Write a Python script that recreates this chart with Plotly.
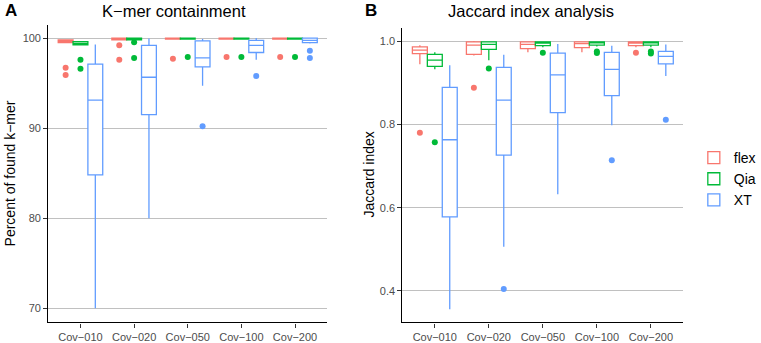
import plotly.graph_objects as go

categories = ["Cov\u2212010", "Cov\u2212020", "Cov\u2212050", "Cov\u2212100", "Cov\u2212200"]
series = ["flex", "Qia", "XT"]
colors = {"flex": "#F8766D", "Qia": "#00BA38", "XT": "#619CFF"}

# Panel A: K-mer containment (percent of found k-mer)
kmer_q1 = {"flex": [99.5, 99.8, 99.9, 99.9, 99.9],
           "Qia": [99.25, 99.8, 99.9, 99.9, 99.9],
           "XT": [84.8, 91.5, 96.8, 98.4, 99.5]}
kmer_med = {"flex": [99.65, 99.9, 99.95, 99.95, 99.95],
            "Qia": [99.4, 99.9, 99.95, 99.95, 99.95],
            "XT": [93.1, 95.65, 97.8, 99.2, 99.75]}
kmer_q3 = {"flex": [99.8, 100, 100, 100, 100],
           "Qia": [99.6, 100, 100, 100, 100],
           "XT": [97.1, 99.2, 99.7, 99.74, 100]}
kmer_lo = {"flex": [99.45, 99.75, 99.85, 99.85, 99.85],
           "Qia": [99.2, 99.75, 99.85, 99.85, 99.85],
           "XT": [70.0, 80.0, 94.7, 97.6, 99.4]}
kmer_hi = {"flex": [99.85, 100, 100, 100, 100],
           "Qia": [99.65, 100, 100, 100, 100],
           "XT": [99.3, 99.95, 99.9, 100, 100]}
kmer_out = {"flex": [[96.7, 95.9], [99.2, 97.6], [97.7], [97.9], [97.9]],
            "Qia": [[97.6, 96.6], [99.55, 97.8], [97.9], [97.9], [97.9]],
            "XT": [[], [], [90.2], [95.8], [98.6, 97.8]]}

# Panel B: Jaccard index
jac_q1 = {"flex": [0.970, 0.968, 0.982, 0.984, 0.989],
          "Qia": [0.939, 0.980, 0.989, 0.990, 0.990],
          "XT": [0.578, 0.726, 0.828, 0.869, 0.945]}
jac_med = {"flex": [0.978, 0.990, 0.992, 0.994, 0.995],
           "Qia": [0.954, 0.992, 0.995, 0.996, 0.996],
           "XT": [0.763, 0.858, 0.919, 0.932, 0.963]}
jac_q3 = {"flex": [0.986, 0.998, 0.998, 0.998, 0.998],
          "Qia": [0.968, 0.998, 0.998, 0.998, 0.998],
          "XT": [0.889, 0.937, 0.971, 0.973, 0.975]}
jac_lo = {"flex": [0.944, 0.965, 0.973, 0.973, 0.985],
          "Qia": [0.932, 0.954, 0.985, 0.987, 0.985],
          "XT": [0.356, 0.506, 0.632, 0.798, 0.916]}
jac_hi = {"flex": [0.990, 1.0, 0.999, 0.999, 0.999],
          "Qia": [0.973, 0.999, 0.999, 0.999, 0.999],
          "XT": [0.942, 0.967, 0.993, 0.989, 0.992]}
jac_out = {"flex": [[0.780], [0.888], [], [], [0.972]],
           "Qia": [[0.757], [0.934], [0.972], [0.975, 0.971], [0.975, 0.970]],
           "XT": [[], [0.405], [], [0.714], [0.811]]}

fig = go.Figure()


def add_panel(panel, q1, med, q3, lo, hi, out, xa, ya, show):
    for s in series:
        pts = [o if len(o) else [None] for o in out[s]]
        fig.add_trace(go.Box(
            name=s, legendgroup=s, showlegend=show,
            offsetgroup=s, alignmentgroup=panel,
            x=categories, y=pts,
            q1=q1[s], median=med[s], q3=q3[s],
            lowerfence=lo[s], upperfence=hi[s],
            boxpoints="outliers", jitter=0, pointpos=0,
            whiskerwidth=0,
            fillcolor="white",
            line=dict(color=colors[s], width=1.3),
            marker=dict(color=colors[s], size=6, line=dict(width=0)),
            xaxis=xa, yaxis=ya,
        ))


add_panel("A", kmer_q1, kmer_med, kmer_q3, kmer_lo, kmer_hi, kmer_out, "x", "y", True)
add_panel("B", jac_q1, jac_med, jac_q3, jac_lo, jac_hi, jac_out, "x2", "y2", False)

W, H = 761, 343
tickfont = dict(family="Liberation Sans, Arial", size=11, color="#4D4D4D")
common_x = dict(type="category", range=[-0.6, 4.6], showline=True, linecolor="black",
                linewidth=1.2, ticks="outside", ticklen=4, tickcolor="#333333",
                tickwidth=1, showgrid=False, zeroline=False, tickfont=tickfont,
                fixedrange=True)
common_y = dict(showline=True, linecolor="black", linewidth=1.2, ticks="outside",
                ticklen=4, tickcolor="#333333", tickwidth=1, showgrid=True,
                gridcolor="#C0C0C0", gridwidth=1, zeroline=False, tickfont=tickfont)

fig.update_layout(
    width=W, height=H,
    margin=dict(l=0, r=0, t=0, b=0),
    paper_bgcolor="white", plot_bgcolor="white",
    boxmode="group", boxgap=0.17, boxgroupgap=0.0,
    font=dict(family="Liberation Sans, Arial", color="black"),
    xaxis=dict(common_x, domain=[49 / W, 332 / W], anchor="y"),
    yaxis=dict(common_y, domain=[1 - 324.3 / H, 1 - 25 / H], range=[68.42, 101.47],
               tickvals=[70, 80, 90, 100], anchor="x"),
    xaxis2=dict(common_x, domain=[408.3 / W, 693.3 / W], anchor="y2"),
    yaxis2=dict(common_y, domain=[1 - 324.3 / H, 1 - 28.3 / H], range=[0.3246, 1.031],
                tickvals=[0.4, 0.6, 0.8, 1.0], ticktext=["0.4", "0.6", "0.8", "1.0"],
                anchor="x2"),
    legend=dict(x=704 / W, y=1 - 180 / H, xanchor="left", yanchor="middle",
                font=dict(size=14, color="black"), bgcolor="rgba(0,0,0,0)",
                tracegroupgap=0),
    showlegend=True,
)

ann = [
    dict(text="<b>A</b>", x=3 / W, y=1 - 11 / H, xanchor="left", yanchor="middle",
         font=dict(size=17)),
    dict(text="<b>B</b>", x=368 / W, y=1 - 11 / H, xanchor="left", yanchor="middle",
         font=dict(size=17)),
    dict(text="K\u2212mer containment", x=176.5 / W, y=1 - 11.5 / H, xanchor="center",
         yanchor="middle", font=dict(size=16.5)),
    dict(text="Jaccard index analysis", x=538.3 / W, y=1 - 11.5 / H, xanchor="center",
         yanchor="middle", font=dict(size=16.5)),
    dict(text="Percent of found k\u2212mer", x=10 / W, y=1 - 174.6 / H, xanchor="center",
         yanchor="middle", textangle=-90, font=dict(size=14)),
    dict(text="Jaccard index", x=374 / W, y=1 - 176 / H, xanchor="center",
         yanchor="middle", textangle=-90, font=dict(size=14)),
]
for a in ann:
    a.update(xref="paper", yref="paper", showarrow=False)
fig.update_layout(annotations=ann)

fig.write_html("out.html", config={"displayModeBar": False},
               post_script="document.body.style.margin='0';")
